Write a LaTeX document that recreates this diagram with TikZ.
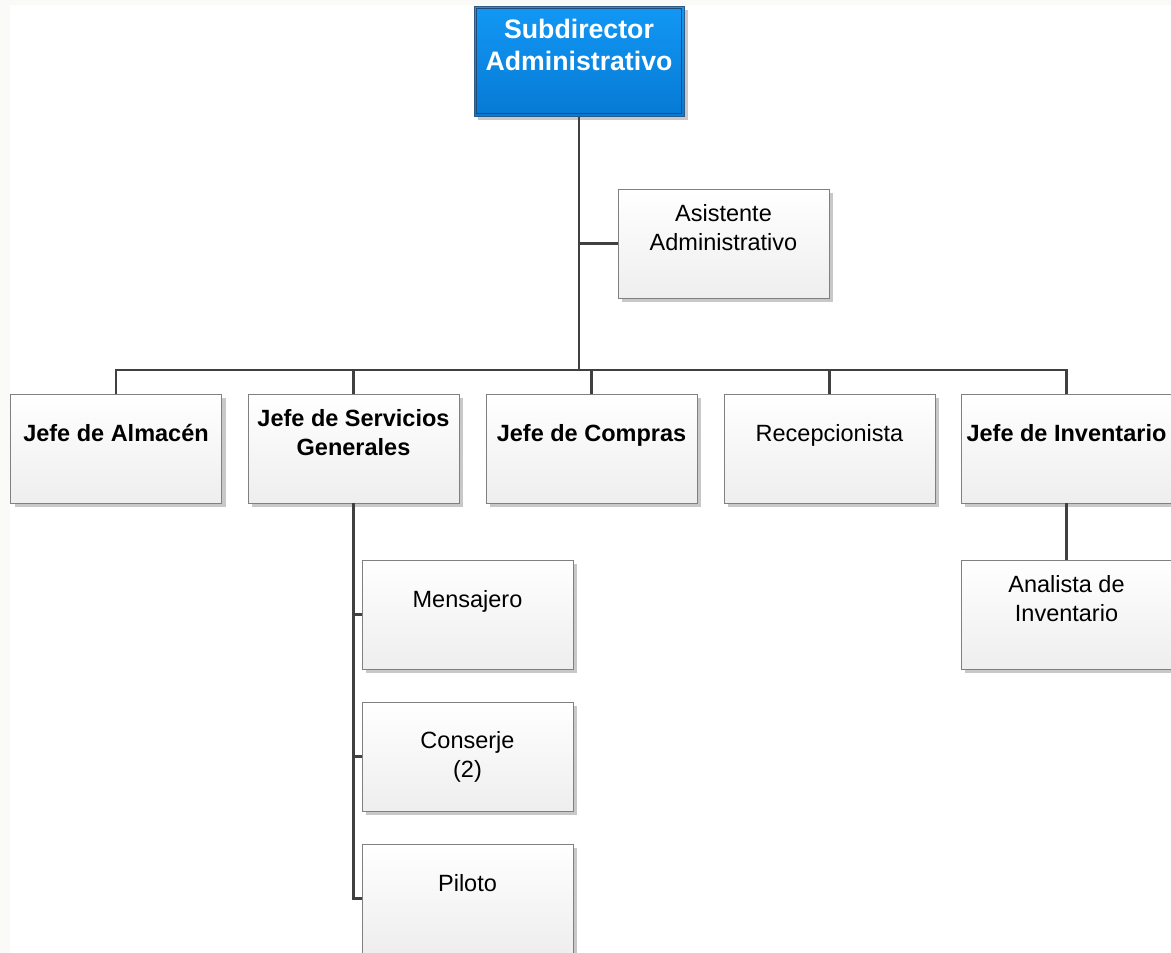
\documentclass[tikz,border=0pt]{standalone}
\usepackage{fontspec}
\setmainfont{Liberation Sans}
\usetikzlibrary{shadows}
\definecolor{linegray}{RGB}{64,64,64}
\definecolor{boxborder}{RGB}{128,128,128}
\definecolor{boxbottom}{RGB}{238,238,238}
\definecolor{shadowgray}{RGB}{200,200,200}
\definecolor{subtop}{RGB}{18,152,245}
\definecolor{subbot}{RGB}{6,122,212}
\definecolor{subborder}{RGB}{45,90,135}
\definecolor{subinner}{RGB}{30,75,120}
\definecolor{bgtint}{RGB}{250,250,249}
\tikzset{
  orgbox/.style={draw=boxborder, line width=0.8pt, top color=white, bottom color=boxbottom,
    minimum width=211pt, minimum height=109pt, inner sep=0pt,
    drop shadow={shadow xshift=4pt, shadow yshift=-4pt, fill=shadowgray, opacity=1}},
  boxtext/.style={align=center, font=\fontsize{23.5}{29}\selectfont, text=black, yshift=15.5pt},
  boldtext/.style={boxtext, font=\fontsize{23.5}{29}\selectfont\bfseries},
  lowered/.style={yshift=-2.5pt},
  subbox/.style={draw=subborder, line width=1pt, top color=subtop, bottom color=subbot,
    minimum width=210pt, minimum height=110pt, inner sep=0pt,
    drop shadow={shadow xshift=4pt, shadow yshift=-4pt, fill=shadowgray, opacity=1}},
  conn/.style={draw=linegray, line width=2.6pt}
}
\begin{document}
\begin{tikzpicture}[x=1pt,y=-1pt]
\useasboundingbox (0,0) rectangle (1171,953);
\fill[bgtint] (0,0) rectangle (1171,953);
\fill[white] (10,5) rectangle (1171,953);

% top box
\node[subbox, label={[name=subt, align=center, text=white, yshift=16pt, font=\fontsize{26.7}{32}\selectfont\bfseries]center:Subdirector\\Administrativo}] (sub) at (579,61) {};
\draw[subinner, line width=0.8pt] ([xshift=3pt,yshift=-3pt]sub.north west) rectangle ([xshift=-3pt,yshift=3pt]sub.south east);

\node[orgbox, label={[name=asist, boxtext]center:Asistente\\Administrativo}] (asis) at (723.5,243.5) {};

% level 2
\node[orgbox, label={[name=almt, boldtext]center:Jefe de Almacén}] (alm) at (116,448.5) {};
\node[orgbox, label={[name=servt, boldtext]center:Jefe de Servicios\\Generales}] (serv) at (353.5,448.5) {};
\node[orgbox, label={[name=compt, boldtext, lowered]center:Jefe de Compras}] (comp) at (591.5,448.5) {};
\node[orgbox, label={[name=rect, boxtext, lowered]center:Recepcionista}] (rec) at (829.5,448.5) {};
\node[orgbox, label={[name=invt, boldtext]center:Jefe de Inventario}] (inv) at (1066.5,448.5) {};

% level 3
\node[orgbox, label={[name=ment, boxtext, lowered]center:Mensajero}] (men) at (467.5,614.5) {};
\node[orgbox, label={[name=cont, align=center, font=\fontsize{23.5}{29}\selectfont]center:Conserje\\(2)}] (con) at (467.5,756.5) {};
\node[orgbox, label={[name=pilt, boxtext]center:Piloto}] (pil) at (467.5,898.5) {};
\node[orgbox, label={[name=anat, boxtext]center:Analista de\\Inventario}] (ana) at (1066.5,614.5) {};

\coordinate (bus) at (0,370);

% connectors
\draw[conn] (sub.south) -- (sub.south |- bus);
\draw[conn] (sub.south |- asis.west) -- (asis.west);
\draw[conn] (alm.north) -- (alm.north |- bus) -- (inv.north |- bus) -- (inv.north);
\draw[conn] (serv.north) -- (serv.north |- bus);
\draw[conn] (comp.north) -- (comp.north |- bus);
\draw[conn] (rec.north) -- (rec.north |- bus);
\draw[conn] (serv.south) -- (serv.south |- pil.west) -- (pil.west);
\draw[conn] (serv.south |- men.west) -- (men.west);
\draw[conn] (serv.south |- con.west) -- (con.west);
\draw[conn] (inv.south) -- (ana.north);
\end{tikzpicture}
\end{document}
